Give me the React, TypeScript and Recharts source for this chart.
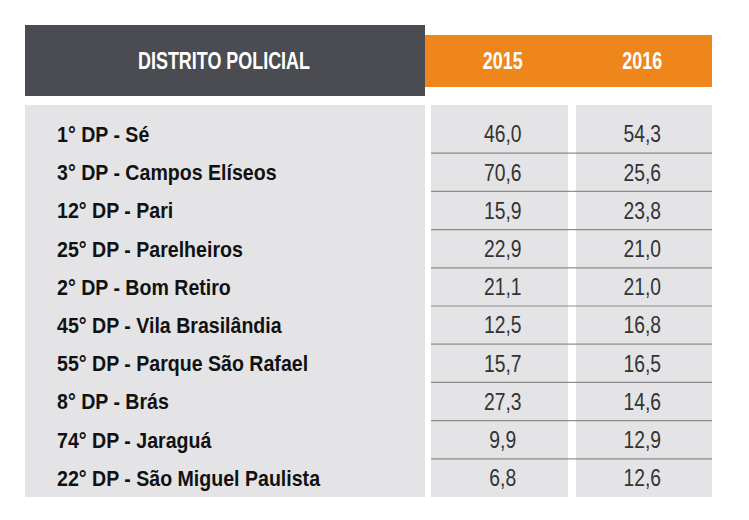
import React from "react";
import { ScatterChart, Scatter, XAxis, YAxis } from "recharts";

const districts = [
  "1° DP - Sé",
  "3° DP - Campos Elíseos",
  "12° DP - Pari",
  "25° DP - Parelheiros",
  "2° DP - Bom Retiro",
  "45° DP - Vila Brasilândia",
  "55° DP - Parque São Rafael",
  "8° DP - Brás",
  "74° DP - Jaraguá",
  "22° DP - São Miguel Paulista",
];
const years = ["2015", "2016"];
const values2015 = [46.0, 70.6, 15.9, 22.9, 21.1, 12.5, 15.7, 27.3, 9.9, 6.8];
const values2016 = [54.3, 25.6, 23.8, 21.0, 21.0, 16.8, 16.5, 14.6, 12.9, 12.6];
const headerTitle = "DISTRITO POLICIAL";

const W = 749;
const H = 520;
const ROW_H = (497 - 115) / 10;
const BAND = (712 - 433) / 2;
const DARK = "#4a4c51";
const ORANGE = "#ef861b";
const GREY = "#e4e4e6";

const fmt = (v: number) => v.toFixed(1).replace(".", ",");

const series = [values2015, values2016].map((vals, c) =>
  districts.map((row, i) => ({ col: years[c], row, value: vals[i], last: i === districts.length - 1, first: c === 0 }))
);

const CellShape = (props: any) => {
  const { cx, cy, payload } = props;
  if (cx == null || cy == null) return null;
  const x1 = cx - BAND / 2 - (payload.first ? 2 : 0);
  const x2 = cx + BAND / 2;
  return (
    <g>
      <text
        transform={`translate(${cx},${cy + 8.2}) scale(0.84,1)`}
        textAnchor="middle"
        fontFamily="'Liberation Sans', Arial, sans-serif"
        fontSize={23}
        fill="#333"
      >
        {fmt(payload.value)}
      </text>
      {!payload.last && (
        <line x1={x1} x2={x2} y1={cy + ROW_H / 2} y2={cy + ROW_H / 2} stroke="#8c8c8c" strokeWidth={1.2} />
      )}
    </g>
  );
};

const YearTick = (props: any) => {
  const { x, payload } = props;
  return (
    <text
      transform={`translate(${x},69.3) scale(0.78,1)`}
      textAnchor="middle"
      fontFamily="'Liberation Sans', Arial, sans-serif"
      fontWeight="bold"
      fontSize={23}
      fill="#fff"
    >
      {payload.value}
    </text>
  );
};

const NameTick = (props: any) => {
  const { y, payload } = props;
  return (
    <text
      transform={`translate(57,${y + 7.9}) scale(0.89,1)`}
      textAnchor="start"
      fontFamily="'Liberation Sans', Arial, sans-serif"
      fontWeight="bold"
      fontSize={22}
      fill="#111"
    >
      {payload.value}
    </text>
  );
};

export default function App() {
  return (
    <div style={{ position: "absolute", left: 0, top: 0, width: W, height: H, background: "#fff" }}>
      <svg width={W} height={H} style={{ position: "absolute", left: 0, top: 0 }}>
        <rect x={25} y={25} width={400} height={71} fill={DARK} />
        <rect x={425} y={35} width={287} height={52} fill={ORANGE} />
        <rect x={25} y={105} width={400} height={392} fill={GREY} />
        <rect x={431} y={105} width={137} height={392} fill={GREY} />
        <rect x={576} y={105} width={136} height={392} fill={GREY} />
        <text
          transform="translate(224,69.3) scale(0.78,1)"
          textAnchor="middle"
          fontFamily="'Liberation Sans', Arial, sans-serif"
          fontWeight="bold"
          fontSize={23}
          fill="#fff"
        >
          {headerTitle}
        </text>
      </svg>
      <div style={{ position: "absolute", left: 0, top: 0 }}>
        <ScatterChart width={W} height={H} margin={{ top: 85, right: 37, bottom: 23, left: 25 }}>
          <XAxis
            type="category"
            dataKey="col"
            orientation="top"
            height={30}
            allowDuplicatedCategory={false}
            axisLine={false}
            tickLine={false}
            interval={0}
            tick={<YearTick />}
          />
          <YAxis
            type="category"
            dataKey="row"
            width={408}
            allowDuplicatedCategory={false}
            axisLine={false}
            tickLine={false}
            interval={0}
            reversed
            tick={<NameTick />}
          />
          {series.map((data, c) => (
            <Scatter key={years[c]} name={years[c]} data={data} shape={<CellShape />} isAnimationActive={false} />
          ))}
        </ScatterChart>
      </div>
    </div>
  );
}
